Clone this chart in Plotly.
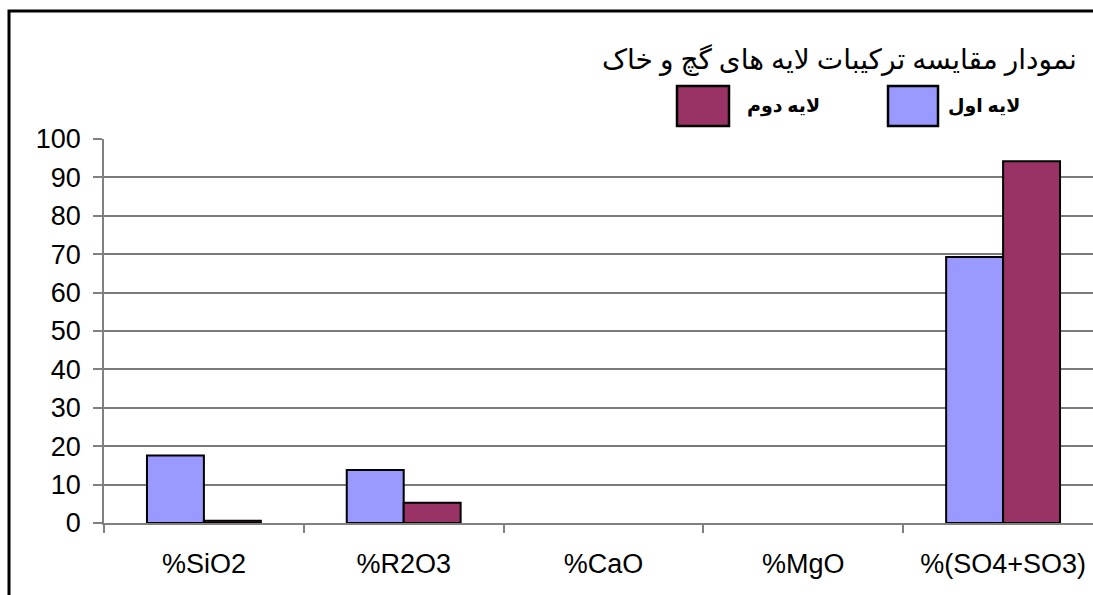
import plotly.graph_objects as go

categories = ["%SiO2", "%R2O3", "%CaO", "%MgO", "%(SO4+SO3)"]
layer1 = [17.6, 13.8, 0, 0, 69.3]
layer2 = [0.6, 5.3, 0, 0, 94.2]
series_names = ["لایه اول", "لایه دوم"]
series_colors = ["#9999ff", "#993366"]
title_text = "نمودار مقایسه ترکیبات لایه های گچ و خاک"
y_ticks = list(range(0, 101, 10))

W, H = 1093, 595
L, T = 104, 139
R, B = 0, 595 - 523
pw, ph = W - L - R, H - T - B

def px(x):
    return (x - L) / pw

def py(y):
    return 1 - (y - T) / ph

fig = go.Figure()
for name, vals, col in zip(series_names, [layer1, layer2], series_colors):
    fig.add_trace(go.Bar(
        x=categories, y=vals, name=name,
        marker=dict(color=col, line=dict(color="#000000",
                                         width=[2 if v > 0 else 0 for v in vals])),
        showlegend=False,
    ))

fig.update_layout(
    width=W, height=H,
    margin=dict(l=L, r=R, t=T, b=B, autoexpand=False),
    paper_bgcolor="white", plot_bgcolor="white",
    barmode="group", bargap=0.43, bargroupgap=0,
    font=dict(family="Liberation Sans, Arial, sans-serif", color="#000000"),
    xaxis=dict(
        type="category", range=[-0.5, 4.45], tickson="boundaries", ticks="outside", ticklen=8,
        tickcolor="#808080", tickwidth=1.5,
        showline=True, linecolor="#808080", linewidth=1.5,
        showgrid=False, tickfont=dict(size=27), ticklabelstandoff=16,
    ),
    yaxis=dict(
        range=[0, 100], tickvals=y_ticks, ticks="outside", ticklen=9,
        tickcolor="#808080", tickwidth=1.5,
        showline=True, linecolor="#808080", linewidth=1.5,
        showgrid=True, gridcolor="#7a7a7a", gridwidth=1.6,
        zeroline=False, tickfont=dict(size=27), ticklabelstandoff=7,
    ),
)

# frame
fig.add_shape(type="path", xref="paper", yref="paper",
              path=f"M {px(9)} {py(600)} L {px(9)} {py(11)} L {px(1100)} {py(11)}",
              line=dict(color="#000000", width=3))

# title
fig.add_annotation(x=px(1079), y=py(60), xref="paper", yref="paper",
                   text=title_text, showarrow=False, xanchor="right", yanchor="middle",
                   font=dict(family="Liberation Serif, DejaVu Serif, DejaVu Sans, serif", size=28))

# legend boxes
legend_items = [
    (series_names[0], series_colors[0], 888, 938, 946),
    (series_names[1], series_colors[1], 677, 729, 745),
]
for name, col, x0, x1, tx in legend_items:
    fig.add_shape(type="rect", xref="paper", yref="paper",
                  x0=px(x0), x1=px(x1), y0=py(126), y1=py(86),
                  fillcolor=col, line=dict(color="#000000", width=2.5))
    fig.add_annotation(x=px(tx), y=py(106), xref="paper", yref="paper",
                       text=f"<b>{name}</b>", showarrow=False, xanchor="left", yanchor="middle",
                       font=dict(family="Liberation Serif, DejaVu Serif, DejaVu Sans, serif", size=19))

fig.write_html("out.html", config={"displayModeBar": False},
               post_script="document.body.style.margin='0';document.body.style.overflow='hidden';")
